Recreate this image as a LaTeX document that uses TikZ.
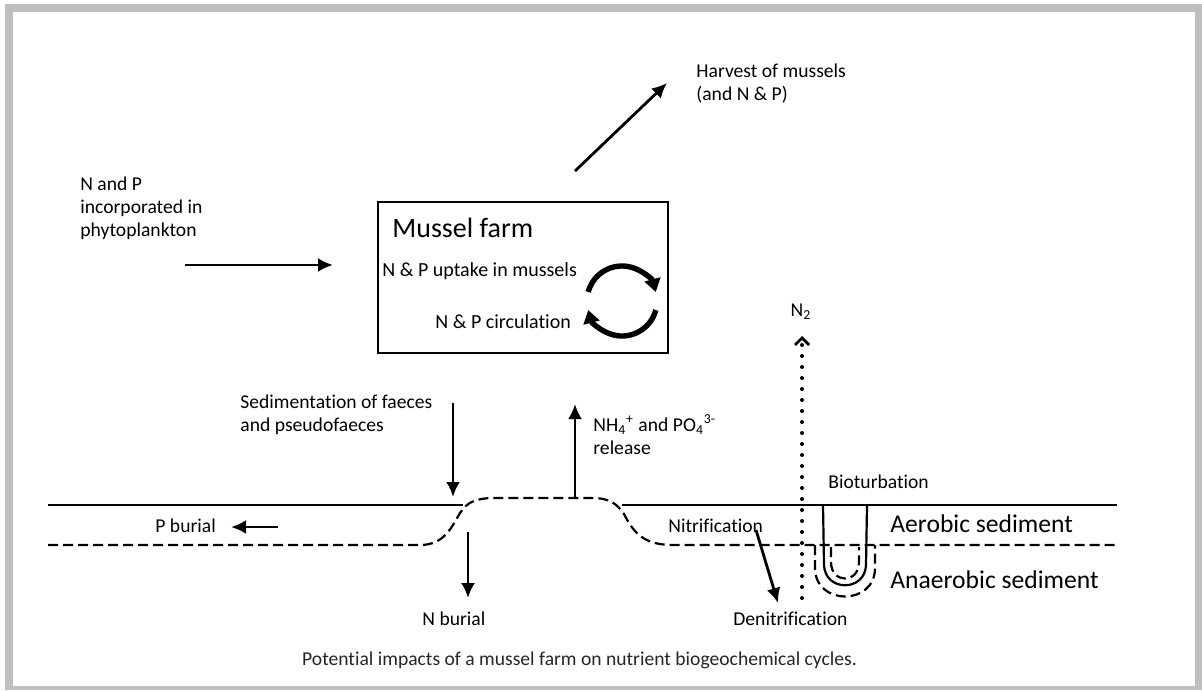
\documentclass[tikz,border=0pt]{standalone}
\usepackage{fontspec}
\setmainfont{Carlito}[Ligatures=NoCommon]
\usetikzlibrary{arrows.meta}
\definecolor{framegray}{RGB}{191,191,191}

\begin{document}
\begin{tikzpicture}[x=0.5pt,y=-0.5pt,
    lbl/.style={inner sep=0pt,anchor=west,align=left,font=\fontsize{9.8}{11.5}\selectfont},
    big/.style={inner sep=0pt,anchor=base west,font=\fontsize{12.8}{15}\selectfont},
    flow/.style={line width=1.4pt,-{Latex[length=7.5pt,width=7pt]}},
    turnover/.style={line width=2.7pt,-{Triangle[length=6.5pt,width=8pt]}},
    surface/.style={line width=1pt},
    redox/.style={line width=1.1pt,dash pattern=on 5pt off 2.5pt},
    gas/.style={line width=2pt,line cap=round,dash pattern=on 0pt off 5.5pt,
        -{Straight Barb[length=3.5pt,width=7pt,line width=1.4pt]}}]
    % frame
    \useasboundingbox (0,0) rectangle (1202,690);
    \fill[framegray] (5,4) rectangle (1202,690);
    \fill[white] (13,12) rectangle (1195,686);
    % mussel farm box
    \node[draw,line width=0.8pt,inner sep=0pt,minimum width=145pt,minimum height=75.5pt] (farm) at (523,277.5) {};
    \node[big,font=\fontsize{14}{16}\selectfont] (farmtitle) at (392,237) {Mussel farm};
    \node[lbl,anchor=base west,font=\fontsize{10}{12}\selectfont] (uptake) at (382,276) {N \& P uptake in mussels};
    \node[lbl,anchor=base west,font=\fontsize{10}{12}\selectfont] (circ) at (435,328) {N \& P circulation};
    \draw[turnover] ([shift={(-165:35)}]622,301) arc[start angle=-165,end angle=-15,radius=35];
    \draw[turnover] ([shift={(15:35)}]622,301) arc[start angle=15,end angle=165,radius=35];
    % water column fluxes
    \node[lbl] (phyto) at (80,208.5) {N and P\\incorporated in\\phytoplankton};
    \coordinate (phytoA) at (185,265);
    \coordinate (phytoB) at (333,265);
    \draw[flow] (phytoA) -- (phytoB);
    \node[lbl] (harvest) at (696,83.5) {Harvest of mussels\\(and N \& P)};
    \coordinate (harvA) at (575,171);
    \coordinate (harvB) at (667,83);
    \draw[flow] (harvA) -- (harvB);
    \node[lbl] (sedim) at (240,415) {Sedimentation of faeces\\and pseudofaeces};
    \coordinate (sedA) at (453,403);
    \coordinate (sedB) at (453,497);
    \draw[flow] (sedA) -- (sedB);
    \node[lbl] (release) at (593,434.5) {NH\textsubscript{4}\textsuperscript{+} and PO\textsubscript{4}\textsuperscript{3-}\\release};
    \coordinate (relA) at (575,498);
    \coordinate (relB) at (575,404);
    \draw[flow] (relA) -- (relB);
    % sediment layers
    \draw[surface] (48,505) -- (463,505);
    \draw[surface] (622,505) -- (1117,505);
    \draw[redox] (48,545) -- (420,545) .. controls (445,545) and (452,526) .. (460,513)
        .. controls (467,502) and (476,498) .. (495,498) -- (592,498)
        .. controls (610,498) and (617,504) .. (624,514)
        .. controls (634,534) and (645,545) .. (673,545) -- (1117,545);
    \node[big] (aerobic) at (890,532) {Aerobic sediment};
    \node[big] (anaerobic) at (890,588) {Anaerobic sediment};
    % burial
    \node[lbl,anchor=base west] (pburial) at (155,532) {P burial};
    \coordinate (pbA) at (278,527);
    \coordinate (pbB) at (231,527);
    \draw[flow] (pbA) -- (pbB);
    \coordinate (nbA) at (468,532);
    \coordinate (nbB) at (468,598);
    \draw[flow] (nbA) -- (nbB);
    \node[lbl,anchor=base west] (nburial) at (422,625) {N burial};
    % nitrogen cycle
    \node[lbl,anchor=base west] (nitri) at (668,532) {Nitrification};
    \coordinate (nitA) at (756,530);
    \coordinate (nitB) at (778,603);
    \draw[flow] (nitA) -- (nitB);
    \node[lbl,anchor=base west] (denitri) at (733,625) {Denitrification};
    \coordinate (gasA) at (802,598);
    \coordinate (gasB) at (802,336);
    \draw[gas] (gasA) -- (gasB);
    \node[lbl,anchor=base] (ntwo) at (801,316) {N\textsubscript{2}};
    % bioturbation burrow
    \node[lbl,anchor=base west] (bioturb) at (828,488) {Bioturbation};
    \draw[line width=1.1pt] (823,505) -- (824,565) .. controls (825,592) and (865,592) .. (866,565) -- (867,505);
    \draw[redox] (815,545) -- (815,568) .. controls (815,606) and (875,606) .. (875,568) -- (875,545);
    \draw[redox] (831,547) -- (831,562) .. controls (831,584) and (859,584) .. (859,562) -- (859,547);
    % caption
    \node[inner sep=0pt,anchor=base,font=\fontsize{9.8}{12}\selectfont,text=black!85] (caption) at (579.5,665)
        {Potential impacts of a mussel farm on nutrient biogeochemical cycles.};
\end{tikzpicture}
\end{document}
